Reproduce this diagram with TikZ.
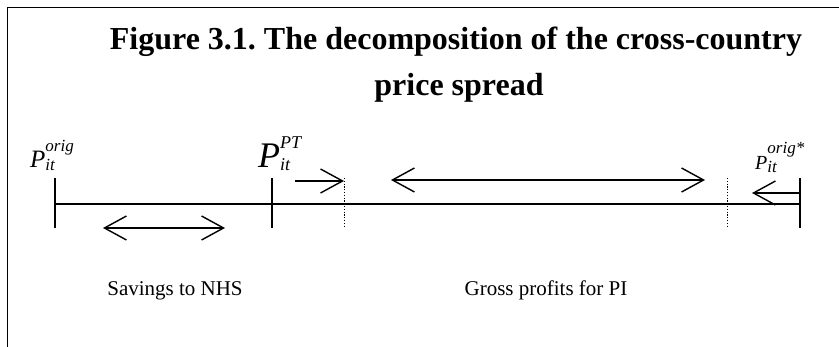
\documentclass[tikz,border=0pt]{standalone}
\usepackage{fontspec}
\setmainfont{Liberation Serif}
\usetikzlibrary{arrows.meta}
\frenchspacing

% P_{it} with a superscript: #1 size of P, #2 script size, #3 raise, #4 superscript
\newcommand{\pprice}[4]{%
  {\fontsize{#1}{#1}\selectfont\itshape P}%
  {\fontsize{#2}{#2}\selectfont\itshape\rlap{\raisebox{#3}{#4}}\raisebox{-3pt}{it}}}

\begin{document}
\begin{tikzpicture}[x=1pt, y=-1pt,
  frameline/.style={line width=1.6pt},
  pricetick/.style={line width=1.3pt},
  cutline/.style={line width=1pt, dash pattern=on 1.2pt off 1.6pt},
  spanarrow/.style={line width=1.4pt, {Straight Barb[length=22pt,width=24pt]}-{Straight Barb[length=22pt,width=24pt]}},
  pusharrow/.style={line width=1.4pt, -{Straight Barb[length=22pt,width=24pt]}},
  pricelabel/.style={anchor=base west, inner sep=0pt},
  spanlabel/.style={font=\fontsize{21}{25}\selectfont, anchor=base, inner sep=0pt},
  titletext/.style={font=\fontsize{32}{37}\selectfont\bfseries, anchor=base, inner sep=0pt},
]
\useasboundingbox (0,0) rectangle (839,347);

% frame (top and left only)
\draw[frameline] (7.5,350) -- (7.5,7.5) -- (845,7.5);

% title
\node[titletext] (title1) at (456,50) {Figure 3.1. The decomposition of the cross-country};
\node[titletext] (title2) at (459,96) {price spread};

% points on the price line
\coordinate (orig) at (55,204);
\coordinate (pt) at (272,204);
\coordinate (cutA) at (344,204);
\coordinate (cutB) at (727,204);
\coordinate (star) at (800,204);

\draw[pricetick] (orig) -- (star);
\foreach \c in {orig, pt, star} {
  \draw[pricetick] ([yshift=26pt]\c) -- ([yshift=-24pt]\c);
}
\foreach \c in {cutA, cutB} {
  \draw[cutline] ([yshift=26pt]\c) -- ([yshift=-22pt]\c);
}

% price labels
\node[pricelabel] (Porig) at (30,168) {\pprice{25}{17}{16pt}{orig}};
\node[pricelabel] (Ppt) at (258,168) {\pprice{36}{18}{19pt}{PT}};
\node[pricelabel] (Pstar) at (755,170) {\pprice{20}{17}{16pt}{orig*}};

% arrows
\coordinate (saveL) at (103,228);
\coordinate (saveR) at (225,228);
\coordinate (ptA) at (295,181);
\coordinate (ptB) at (344,181);
\coordinate (grossL) at (391,180);
\coordinate (grossR) at (705,180);
\coordinate (starA) at (800,193);
\coordinate (starB) at (752,193);

\draw[spanarrow] (saveL) -- (saveR);
\draw[pusharrow] (ptA) -- (ptB);
\draw[spanarrow] (grossL) -- (grossR);
\draw[pusharrow] (starA) -- (starB);

% span labels
\node[spanlabel] (savings) at (175,296) {Savings to NHS};
\node[spanlabel] (gross) at (546,296) {Gross profits for PI};

\end{tikzpicture}
\end{document}
